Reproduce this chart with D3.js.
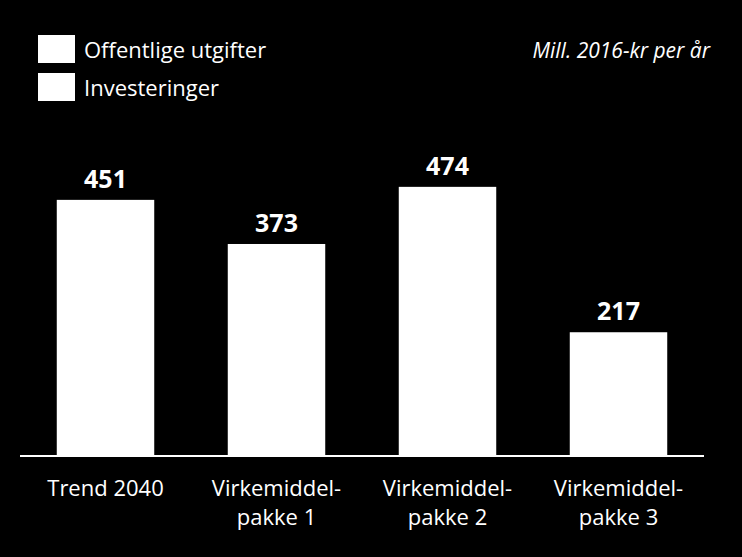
<!DOCTYPE html>
<html>
<head>
<meta charset="utf-8">
<script src="https://cdn.jsdelivr.net/npm/d3@7"></script>
<style>
  html, body { margin: 0; padding: 0; background: #000; }
  svg { display: block; }
  text { font-family: "Open Sans", "Liberation Sans", sans-serif; fill: #fff; }
</style>
</head>
<body>
<svg id="chart" width="742" height="557"></svg>
<script>
const categories = [["Trend 2040"], ["Virkemiddel-", "pakke 1"], ["Virkemiddel-", "pakke 2"], ["Virkemiddel-", "pakke 3"]];
const values = [451, 373, 474, 217];
const legendLabels = ["Offentlige utgifter", "Investeringer"];
const unitLabel = "Mill. 2016-kr per år";

const W = 742, H = 557;
const svg = d3.select("#chart");
svg.append("rect").attr("width", W).attr("height", H).attr("fill", "#000");

const keys = categories.map((c, i) => String(i));
const x = d3.scaleBand().domain(keys).range([20, 704]).paddingInner(0.43).paddingOuter(0.215);
const y = d3.scaleLinear().domain([0, 700]).range([455, 59]);

// bars
svg.selectAll("rect.bar").data(values).join("rect")
  .attr("class", "bar")
  .attr("x", (d, i) => x(String(i)))
  .attr("width", x.bandwidth())
  .attr("y", d => y(d))
  .attr("height", d => y(0) - y(d))
  .attr("fill", "#fff");

// value labels
svg.selectAll("text.val").data(values).join("text")
  .attr("class", "val")
  .attr("x", (d, i) => x(String(i)) + x.bandwidth() / 2)
  .attr("y", d => y(d) - 12)
  .attr("text-anchor", "middle")
  .attr("font-size", 25)
  .attr("font-weight", "bold")
  .text(d => d);

// x axis
const xAxis = d3.axisBottom(x).tickSize(0).tickFormat("");
const gx = svg.append("g").attr("transform", `translate(0,${y(0) + 1})`).call(xAxis);
gx.select(".domain").attr("stroke", "#fff").attr("stroke-width", 2).attr("d", "M20,0H704");

// category labels
categories.forEach((lines, i) => {
  const t = svg.append("text")
    .attr("x", x(String(i)) + x.bandwidth() / 2)
    .attr("y", 496)
    .attr("text-anchor", "middle")
    .attr("font-size", 22);
  lines.forEach((l, j) => {
    t.append("tspan").attr("x", x(String(i)) + x.bandwidth() / 2).attr("dy", j === 0 ? 0 : 29).text(l);
  });
});

// legend
legendLabels.forEach((l, i) => {
  svg.append("rect").attr("x", 38).attr("y", 35 + i * 38).attr("width", 37).attr("height", 28).attr("fill", "#fff");
  svg.append("text").attr("x", 84).attr("y", 58 + i * 38).attr("font-size", 22).text(l);
});

// unit label
svg.append("text").attr("x", 710).attr("y", 58).attr("text-anchor", "end")
  .attr("font-size", 21).attr("font-style", "italic").text(unitLabel);
</script>
</body>
</html>
